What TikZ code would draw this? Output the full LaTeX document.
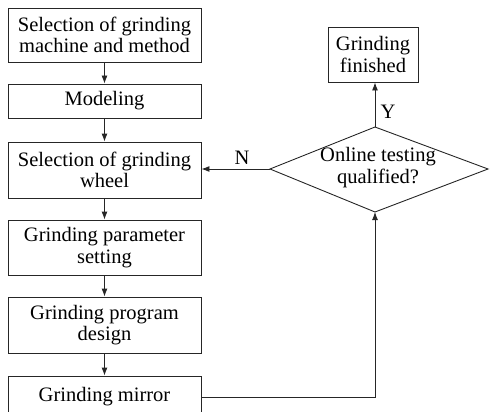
\documentclass[tikz,border=0pt]{standalone}
\usepackage{fontspec}
\setmainfont{Liberation Serif}
\usetikzlibrary{arrows.meta}
\begin{document}
\begin{tikzpicture}[x=1pt,y=-1pt,
  box/.style={draw=black!85, line width=0.9pt, minimum width=193pt, inner sep=0pt, align=center,
     font=\fontsize{20.5}{21.5}\selectfont},
  lbl/.style={font=\fontsize{20.5}{21.5}\selectfont, inner sep=0pt},
  conn/.style={draw=black!85, line width=0.9pt},
  arr/.style={conn, -{Latex[length=8pt,width=6pt]}}]
\useasboundingbox (0,0) rectangle (490,412);
\clip (0,0) rectangle (490,412);
\node[box, minimum height=54pt] (b1) at (104.5,35) {Selection of grinding\\machine and method};
\node[box, minimum height=34pt] (b2) at (104.5,101) {Modeling};
\node[box, minimum height=56pt] (b3) at (104.5,170) {Selection of grinding\\wheel};
\node[box, minimum height=55pt] (b4) at (104.5,247.5) {Grinding parameter\\setting};
\node[box, minimum height=56pt] (b5) at (104.5,325) {Grinding program\\design};
\node[box, minimum height=42pt] (b6) at (104.5,397) {Grinding mirror};
\node[box, minimum width=90pt, minimum height=55pt] (fin) at (373,54.5) {Grinding\\finished};
% diamond
\coordinate (dl) at (270,169);
\coordinate (dt) at (375,127);
\coordinate (dr) at (488,169);
\coordinate (db) at (375,212);
\draw[conn, line join=miter] (dl) -- (dt) -- (dr) -- (db) -- cycle;
\node[lbl, align=center] (dtext) at (378,167.5) {Online testing\\qualified?};
\coordinate (turn) at (375,397);
\draw[arr] (b1) -- (b2);
\draw[arr] (b2) -- (b3);
\draw[arr] (b3) -- (b4);
\draw[arr] (b4) -- (b5);
\draw[arr] (b5) -- (b6);
\draw[arr] (b6.east) -- (turn) -- (db);
\draw[arr] (dt) -- (dt |- fin.south);
\draw[arr] (dl) -- (b3.east |- dl);
\node[lbl] (ylab) at (388,112) {Y};
\node[lbl] (nlab) at (242,158) {N};
\end{tikzpicture}
\end{document}
